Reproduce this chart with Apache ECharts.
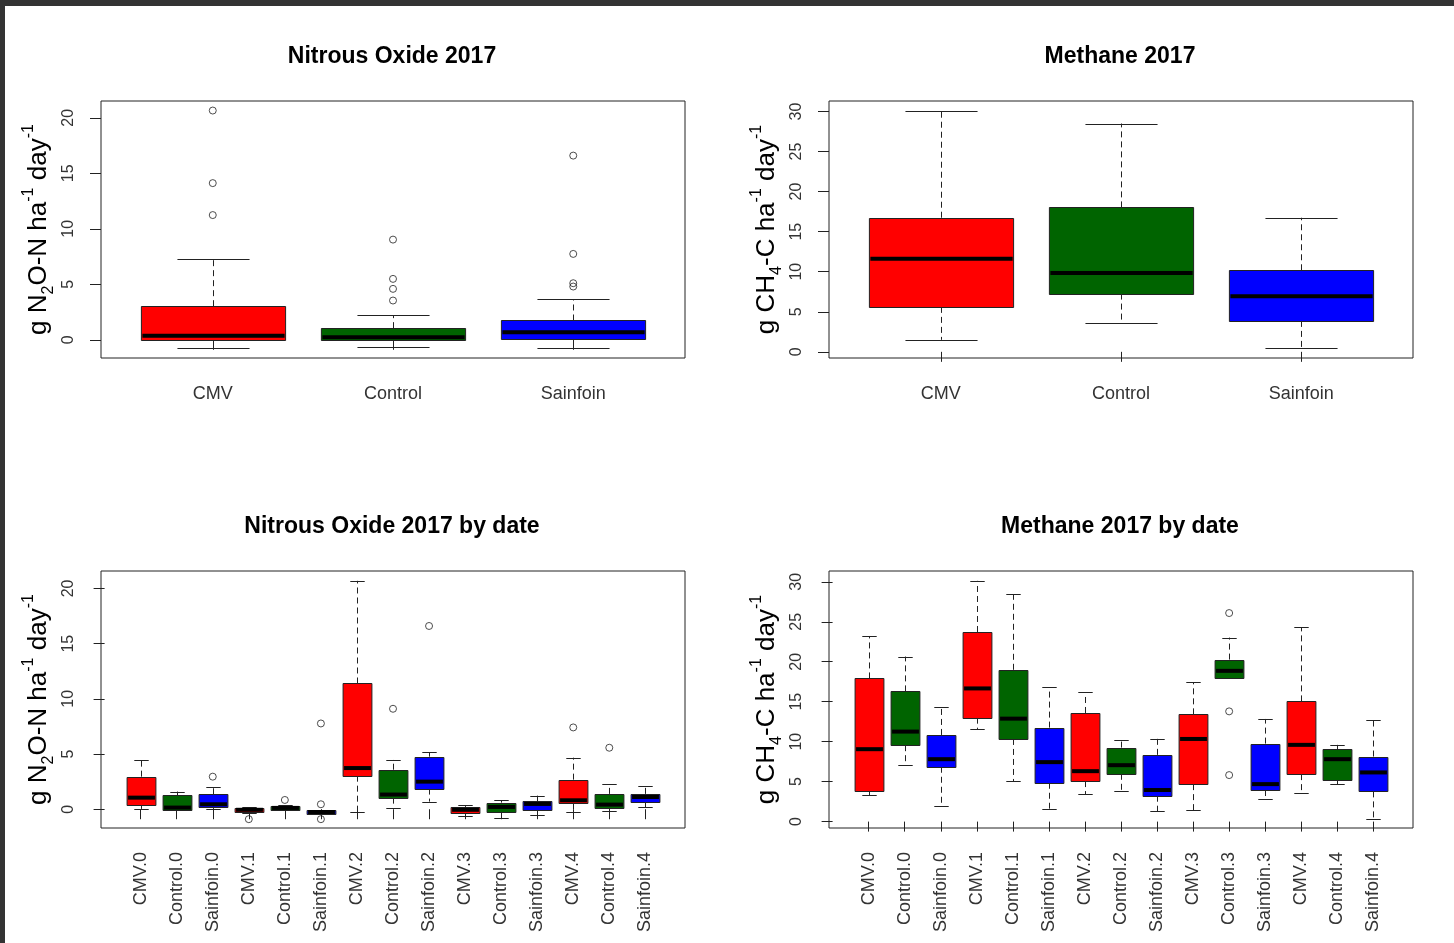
<!DOCTYPE html>
<html><head><meta charset="utf-8">
<script src="https://cdn.jsdelivr.net/npm/echarts@6/dist/echarts.min.js"></script>
<style>
html,body{margin:0;padding:0;background:#fff;}
#chart{position:absolute;left:0;top:0;width:1454px;height:943px;}
.bar{position:absolute;background:#333;}
</style></head><body>
<div id="chart"></div>
<div class="bar" style="left:0;top:0;width:1454px;height:6px"></div>
<div class="bar" style="left:0;top:0;width:5px;height:943px"></div>
<script>
// ---------- data ----------
const treatments = ['CMV', 'Control', 'Sainfoin'];
const dateLabels = ['CMV.0','Control.0','Sainfoin.0','CMV.1','Control.1','Sainfoin.1',
  'CMV.2','Control.2','Sainfoin.2','CMV.3','Control.3','Sainfoin.3','CMV.4','Control.4','Sainfoin.4'];
const n2oTicks = [0, 5, 10, 15, 20];
const ch4Ticks = [0, 5, 10, 15, 20, 25, 30];

// [lower whisker, Q1, median, Q3, upper whisker]
const n2oStats = [
  [-0.78, 0.00, 0.37, 3.03, 7.32],
  [-0.66, 0.00, 0.24, 1.05, 2.22],
  [-0.78, 0.09, 0.67, 1.74, 3.66]
];
// [position (1-based), value]
const n2oOutliers = [[1,20.66],[1,14.12],[1,11.24],[2,9.03],[2,5.49],[2,4.59],[2,3.54],
  [3,16.6],[3,7.74],[3,5.1],[3,4.8]];

const ch4Stats = [
  [1.50, 5.61, 11.63, 16.74, 30.12],
  [3.66, 7.27, 9.85, 18.03, 28.50],
  [0.42, 3.86, 6.94, 10.18, 16.74]
];
const ch4Outliers = [];

const n2oDateStats = [
  [0.03, 0.42, 1.05, 2.95, 4.49],
  [-0.10, -0.06, 0.15, 1.27, 1.60],
  [0.03, 0.24, 0.45, 1.36, 2.02],
  [-0.30, -0.25, -0.05, 0.15, 0.18],
  [-0.10, -0.09, 0.12, 0.33, 0.35],
  [-0.45, -0.39, -0.25, -0.09, -0.05],
  [-0.21, 3.04, 3.73, 11.39, 20.69],
  [0.15, 1.05, 1.33, 3.58, 4.49],
  [0.69, 1.87, 2.50, 4.76, 5.15],
  [-0.63, -0.30, -0.05, 0.21, 0.36],
  [-0.78, -0.24, 0.21, 0.60, 0.81],
  [-0.48, -0.03, 0.48, 0.72, 1.23],
  [-0.24, 0.54, 0.81, 2.68, 4.67],
  [-0.12, 0.15, 0.42, 1.39, 2.26],
  [0.18, 0.66, 1.11, 1.39, 2.14]
];
const n2oDateOutliers = [[3,2.95],[4,-0.9],[5,0.84],[6,7.77],[6,0.45],[6,-0.9],
  [8,9.10],[9,16.6],[13,7.41],[14,5.57]];

const ch4DateStats = [
  [3.28, 3.78, 9.06, 17.91, 23.22],
  [7.06, 9.56, 11.26, 16.29, 20.65],
  [1.99, 6.86, 7.81, 10.84, 14.29],
  [11.59, 13.00, 16.66, 23.72, 30.12],
  [5.07, 10.34, 12.88, 18.99, 28.46],
  [1.62, 4.86, 7.44, 11.76, 16.83],
  [3.45, 5.07, 6.31, 13.59, 16.16],
  [3.82, 5.98, 7.06, 9.26, 10.18],
  [1.29, 3.24, 3.95, 8.35, 10.39],
  [1.45, 4.69, 10.34, 13.42, 17.41],
  [17.91, 17.91, 18.86, 20.27, 23.02],
  [2.87, 3.95, 4.69, 9.76, 12.84],
  [3.61, 5.94, 9.60, 15.04, 24.30],
  [4.69, 5.19, 7.81, 9.06, 9.60],
  [0.33, 3.78, 6.15, 8.14, 12.67]
];
const ch4DateOutliers = [[11,26.09],[11,13.79],[11,5.82]];

// ---------- styling ----------
const palette = ['#ff0000', '#006400', '#0000ff'];
const FONT = '"Liberation Sans", Arial, Helvetica, sans-serif';
const INK = '#222';

const n2oName = '{t|g N}{sub|2}{t|O-N ha}{sup|-1}{t| day}{sup|-1}';
const ch4Name = '{t|g CH}{sub|4}{t|-C ha}{sup|-1}{t| day}{sup|-1}';
const nameRich = {
  t: {fontSize: 26, fontFamily: FONT, color: '#000', lineHeight: 36},
  sup: {fontSize: 16, fontFamily: FONT, color: '#000', verticalAlign: 'top', lineHeight: 17},
  sub: {fontSize: 16, fontFamily: FONT, color: '#000', verticalAlign: 'bottom', lineHeight: 17}
};

const panels = [
  {title: 'Nitrous Oxide 2017', cats: treatments, stats: n2oStats, outl: n2oOutliers,
   ymin: -1.64, ymax: 21.52, ticks: n2oTicks, name: n2oName, left: 101, top: 101, xmin: 0.38, xmax: 3.62, rot: 0},
  {title: 'Methane 2017', cats: treatments, stats: ch4Stats, outl: ch4Outliers,
   ymin: -0.77, ymax: 31.31, ticks: ch4Ticks, name: ch4Name, left: 829, top: 101, xmin: 0.38, xmax: 3.62, rot: 0},
  {title: 'Nitrous Oxide 2017 by date', cats: dateLabels, stats: n2oDateStats, outl: n2oDateOutliers,
   ymin: -1.70, ymax: 21.58, ticks: n2oTicks, name: n2oName, left: 101, top: 571, xmin: -0.1, xmax: 16.1, rot: 90},
  {title: 'Methane 2017 by date', cats: dateLabels, stats: ch4DateStats, outl: ch4DateOutliers,
   ymin: -0.80, ymax: 31.35, ticks: ch4Ticks, name: ch4Name, left: 829, top: 571, xmin: -0.1, xmax: 16.1, rot: 90}
];
const W = 584, H = 257;

function renderBox(params, api) {
  const x = api.value(0);
  const lo = api.coord([x, api.value(1)]);
  const q1 = api.coord([x, api.value(2)]);
  const md = api.coord([x, api.value(3)]);
  const q3 = api.coord([x, api.value(4)]);
  const hi = api.coord([x, api.value(5)]);
  const color = palette[api.value(6)];
  const bw = api.size([0.8, 0])[0];
  const cw = api.size([0.4, 0])[0];
  const cx = Math.round(lo[0]) + 0.5;
  const dash = {stroke: INK, lineWidth: 1, lineDash: [6, 4]};
  const solid = {stroke: INK, lineWidth: 1};
  return {
    type: 'group',
    children: [
      {type: 'line', shape: {x1: cx, y1: q3[1], x2: cx, y2: hi[1]}, style: dash},
      {type: 'line', shape: {x1: cx, y1: q1[1], x2: cx, y2: lo[1]}, style: dash},
      {type: 'line', shape: {x1: cx - cw / 2, y1: Math.round(hi[1]) + 0.5, x2: cx + cw / 2, y2: Math.round(hi[1]) + 0.5}, style: solid},
      {type: 'line', shape: {x1: cx - cw / 2, y1: Math.round(lo[1]) + 0.5, x2: cx + cw / 2, y2: Math.round(lo[1]) + 0.5}, style: solid},
      {type: 'rect', shape: {x: cx - bw / 2, y: Math.round(q3[1]) + 0.5, width: bw, height: Math.max(1, Math.round(q1[1]) - Math.round(q3[1]))},
       style: {fill: color, stroke: INK, lineWidth: 1}},
      {type: 'line', shape: {x1: cx - bw / 2 + 1, y1: md[1], x2: cx + bw / 2 - 1, y2: md[1]}, style: {stroke: '#000', lineWidth: 4}}
    ]
  };
}

const option = {
  animation: false,
  backgroundColor: '#fff',
  title: [], grid: [], xAxis: [], yAxis: [], series: []
};

panels.forEach((p, i) => {
  const positions = p.cats.map((c, k) => k + 1);
  option.title.push({
    text: p.title, left: p.left + W / 2 - 1, top: p.top - 56, textAlign: 'center', padding: 0,
    textStyle: {fontSize: 23, fontWeight: 'bold', color: '#000', fontFamily: FONT}
  });
  option.grid.push({left: p.left, top: p.top, width: W, height: H, show: true,
    borderColor: INK, borderWidth: 1, backgroundColor: 'transparent'});
  option.xAxis.push({
    gridIndex: i, type: 'value', min: p.xmin, max: p.xmax,
    axisLine: {show: false}, splitLine: {show: false},
    axisTick: {show: true, length: 10, lineStyle: {color: INK}, customValues: positions},
    axisLabel: {customValues: positions, formatter: v => p.cats[Math.round(v) - 1],
      rotate: p.rot, fontSize: 18, fontFamily: FONT, color: '#333', margin: p.rot ? 24 : 27}
  });
  option.yAxis.push({
    gridIndex: i, type: 'value', min: p.ymin, max: p.ymax,
    axisLine: {show: false}, splitLine: {show: false},
    axisTick: {show: true, length: 11, lineStyle: {color: INK}, customValues: p.ticks},
    axisLabel: {customValues: p.ticks, rotate: 90, fontSize: 16, fontFamily: FONT, color: '#333', margin: 24},
    name: p.name, nameLocation: 'middle', nameRotate: 90, nameGap: 44,
    nameTextStyle: {rich: nameRich}
  });
  option.series.push({
    type: 'custom', xAxisIndex: i, yAxisIndex: i, renderItem: renderBox, silent: true, clip: false,
    encode: {x: 0, y: [1, 2, 3, 4, 5]},
    data: p.stats.map((s, k) => [k + 1, s[0], s[1], s[2], s[3], s[4], k % 3])
  });
  option.series.push({
    type: 'scatter', xAxisIndex: i, yAxisIndex: i, silent: true,
    symbol: 'circle', symbolSize: 7,
    itemStyle: {color: 'rgba(255,255,255,0)', borderColor: INK, borderWidth: 1},
    data: p.outl
  });
});

const chart = echarts.init(document.getElementById('chart'), null, {renderer: 'canvas'});
chart.setOption(option);
</script></body></html>
